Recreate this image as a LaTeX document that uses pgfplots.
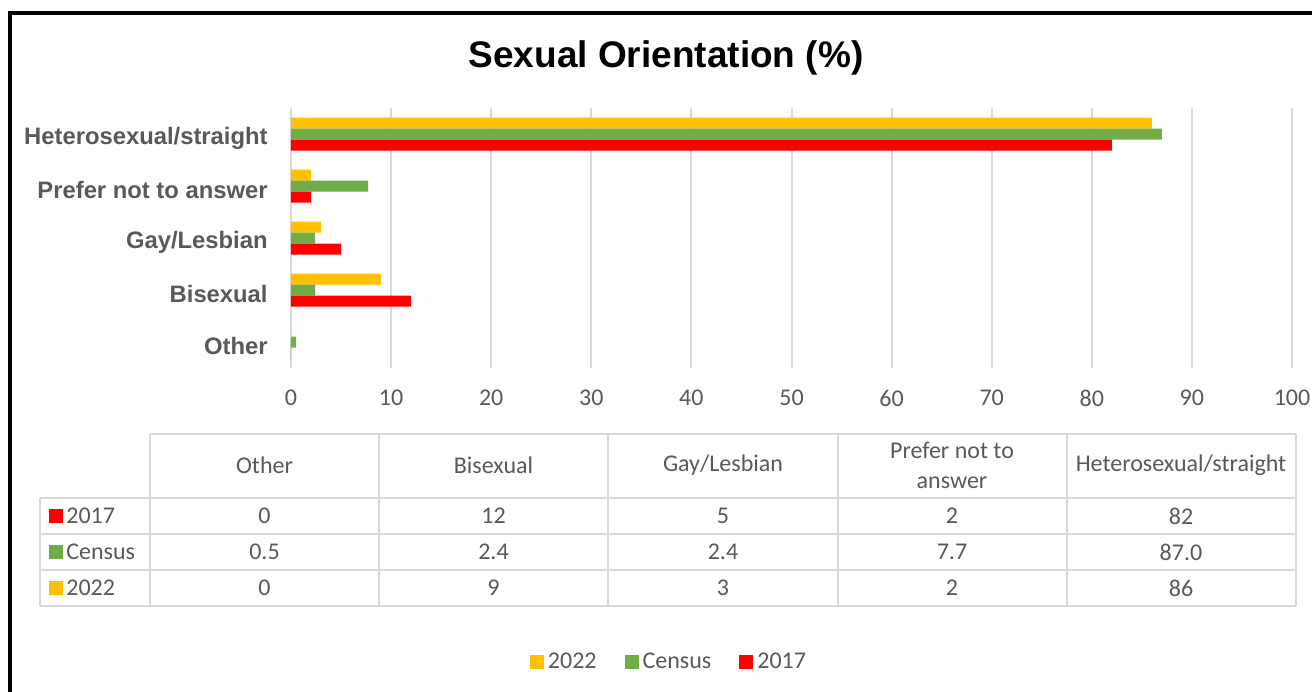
\documentclass[border=0pt]{standalone}
\usepackage{fontspec}
\setmainfont{Carlito}
\newfontfamily\arialfont{Liberation Sans}
\usepackage{pgfplots}
\pgfplotsset{compat=1.18}
\definecolor{c22}{HTML}{FFC000}
\definecolor{ccen}{HTML}{70AD47}
\definecolor{c17}{HTML}{FF0000}
\definecolor{txt}{HTML}{595959}
\definecolor{gridc}{HTML}{D9D9D9}

\begin{document}
\begin{tikzpicture}
\useasboundingbox (0,0) rectangle (656pt,-345.5pt);
\begin{axis}[
  at={(145.5pt,-184pt)}, anchor=south west,
  scale only axis, width=500.5pt, height=130pt,
  xbar, bar width=5.5pt,
  xmin=0, xmax=100, ymin=-0.5, ymax=4.5,
  xtick={0,10,...,100},
  ytick={0,...,4},
  yticklabels={Other, Bisexual, Gay/Lesbian, Prefer not to answer, Heterosexual/straight},
  axis line style={draw=none},
  major tick length=0pt,
  xmajorgrids, grid style={gridc, line width=1pt},
  /pgf/number format/assume math mode=true,
  xticklabel style={anchor=center, yshift=-15pt, text=txt,
    font=\fontsize{12}{14}\selectfont},
  yticklabel style={anchor=east, inner sep=0pt, xshift=-11.5pt, yshift=-2pt, text=txt,
    font=\arialfont\bfseries\fontsize{11.9}{14}\selectfont},
  legend image code/.code={\fill[#1] (0pt,-3.5pt) rectangle (7pt,3.5pt);},
  legend style={at={(0.3786,-1.1308)}, anchor=center, draw=none, fill=none,
    legend columns=3, text=txt, font=\fontsize{12}{14}\selectfont,
    /tikz/every even column/.append style={column sep=12pt}},
]
\addplot[fill=c22, draw=none, bar shift=5.5pt]
  coordinates {(0,0) (9,1) (3,2) (2,3) (86,4)};
\addplot[fill=ccen, draw=none, bar shift=0pt]
  coordinates {(0.5,0) (2.4,1) (2.4,2) (7.7,3) (87,4)};
\addplot[fill=c17, draw=none, bar shift=-5.5pt]
  coordinates {(0,0) (12,1) (5,2) (2,3) (82,4)};
\legend{2022, Census, 2017}
\end{axis}

\begin{scope}[x=0.5pt, y=-0.5pt]
% outer frame
\draw[black, line width=2pt] (10,720) -- (10,13) -- (1340,13);
% title
\node[font=\arialfont\bfseries\fontsize{18.5}{22}\selectfont] at (666,58) {Sexual Orientation (\%)};
% data table
\begin{scope}[gridc, line width=1pt]
  \draw (150,434) -- (1296,434);
  \foreach \y in {498,534,570,606} \draw (40,\y) -- (1296,\y);
  \draw (40,498) -- (40,606);
  \foreach \x in {150,379,608,838,1067,1296} \draw (\x,434) -- (\x,606);
\end{scope}
\begin{scope}[every node/.style={text=txt, font=\fontsize{12}{14}\selectfont, inner sep=0pt}]
  \node at (264.5,465) {Other};
  \node at (493.5,465) {Bisexual};
  \node at (723,465) {Gay/Lesbian};
  \node[align=center, font=\fontsize{12}{15}\selectfont] at (952,465) {Prefer not to\\answer};
  \node at (1181,465) {Heterosexual/straight};
  % 2017
  \fill[c17] (49,509) rectangle (63,523);
  \node[anchor=west] at (66,516) {2017};
  \node at (264.5,516) {0};   \node at (493.5,516) {12};
  \node at (723,516) {5};     \node at (952,516) {2};
  \node at (1181,516) {82};
  % Census
  \fill[ccen] (49,545) rectangle (63,559);
  \node[anchor=west] at (66,552) {Census};
  \node at (264.5,552) {0.5}; \node at (493.5,552) {2.4};
  \node at (723,552) {2.4};   \node at (952,552) {7.7};
  \node at (1181,552) {87.0};
  % 2022
  \fill[c22] (49,581) rectangle (63,595);
  \node[anchor=west] at (66,588) {2022};
  \node at (264.5,588) {0};   \node at (493.5,588) {9};
  \node at (723,588) {3};     \node at (952,588) {2};
  \node at (1181,588) {86};
\end{scope}
\end{scope}
\end{tikzpicture}
\end{document}
